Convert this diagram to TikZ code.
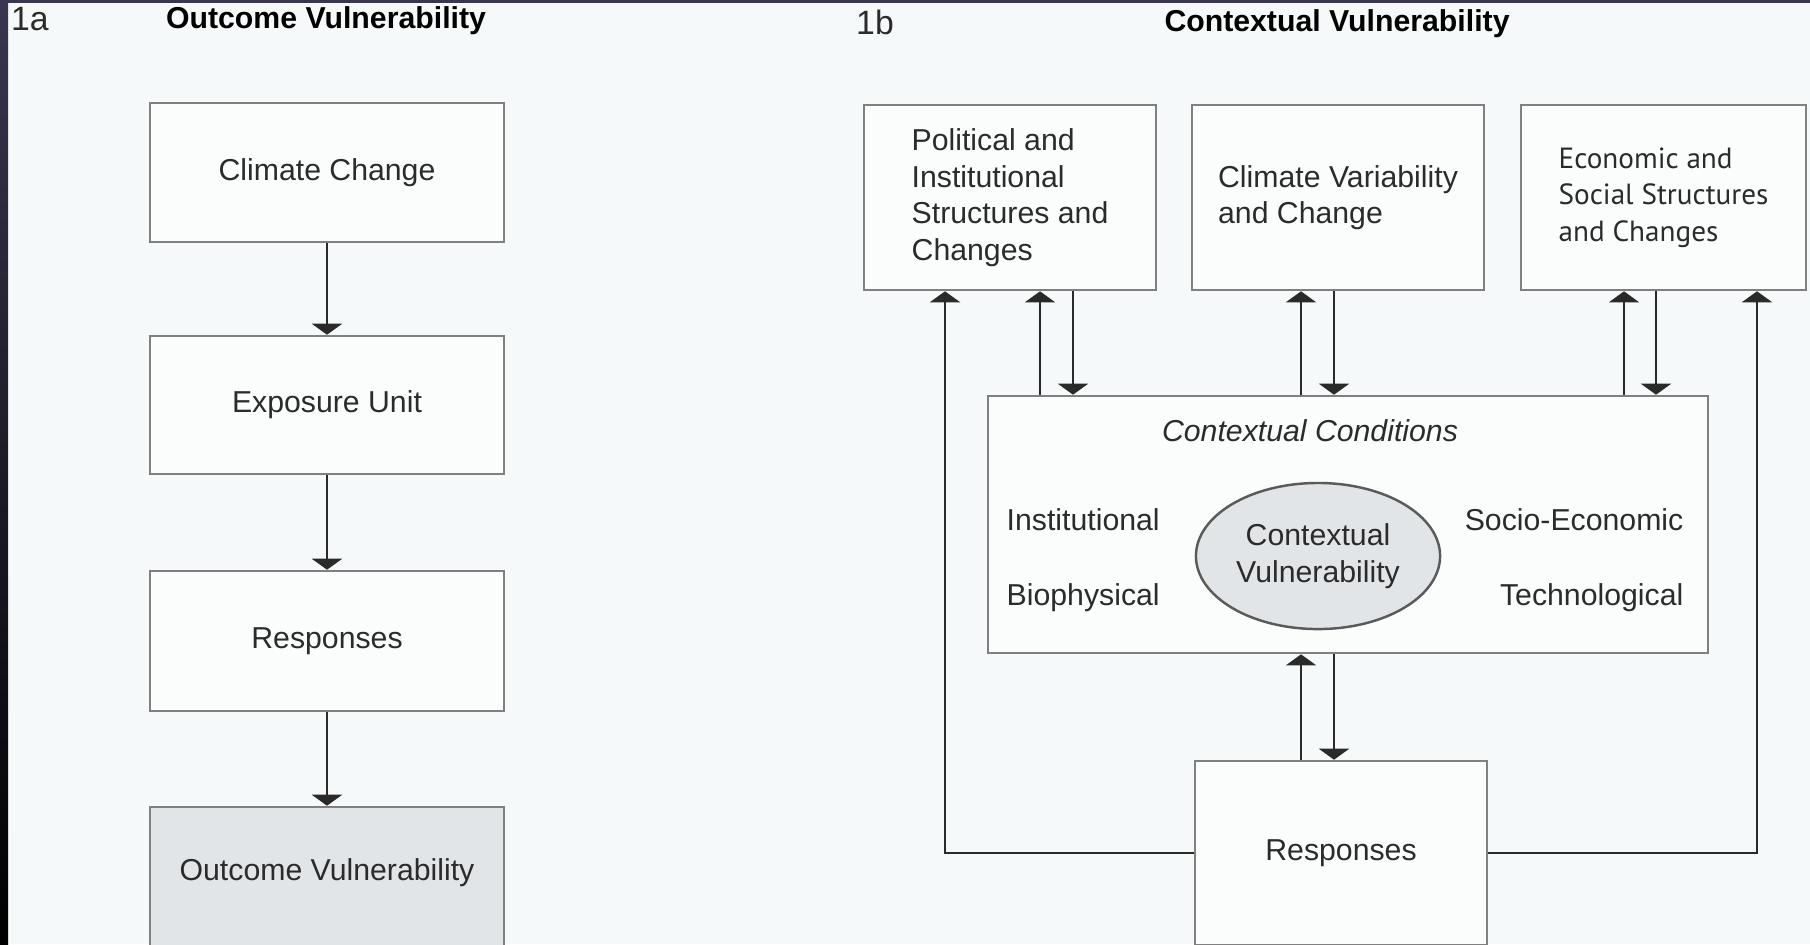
\documentclass[tikz,border=0pt]{standalone}
\usepackage{fontspec}
\setmainfont{Liberation Sans}
\newfontfamily\ptsans{PT Sans}
\usepackage{tikz}
\usetikzlibrary{arrows.meta}
\usetikzlibrary{shapes.geometric}

\definecolor{bgpale}{HTML}{F6F9F9}
\definecolor{boxfill}{HTML}{FBFDFD}
\definecolor{boxgray}{HTML}{808080}
\definecolor{linegray}{HTML}{2A2A2A}
\definecolor{shadegray}{HTML}{E2E5E8}
\definecolor{ellgray}{HTML}{5A5A5A}
\definecolor{textgray}{HTML}{2B2B2B}
\definecolor{bandtop}{HTML}{3A3550}
\definecolor{bandmid}{HTML}{26263A}

\begin{document}
\begin{tikzpicture}[x=0.01cm,y=-0.01cm,
  font=\fontsize{8.6}{10.4}\selectfont, text=textgray,
  box/.style={draw=boxgray,line width=0.7pt,fill=boxfill,inner sep=0pt,align=left},
  lbl/.style={inner sep=0pt,text height=6.2pt,text depth=1.8pt},
  arr/.style={draw=linegray,line width=0.6pt,-{Triangle[width=0.30cm,length=0.11cm]}},
  feedback/.style={line width=0.8pt}]
\useasboundingbox (0,0) rectangle (1810,944);
\clip (0,0) rectangle (1810,944);
\fill[bgpale] (0,0) rectangle (1810,944);
\shade[top color=bandtop,middle color=bandmid,bottom color=black] (0,0) rectangle (8,944);
\fill[bandtop] (0,0) rectangle (1810,3);

% 1a
\node[lbl,font=\fontsize{9.6}{11}\selectfont] (tag1a) at (30,23) {1a};
\node[lbl,font=\fontsize{8.6}{10.4}\selectfont\bfseries,text=black] (ttla) at (326,21) {Outcome Vulnerability};
\node[box,minimum width=3.54cm,minimum height=1.39cm] (clim) at (327,172.5) {Climate Change};
\node[box,minimum width=3.54cm,minimum height=1.38cm] (expo) at (327,405) {Exposure Unit};
\node[box,minimum width=3.54cm,minimum height=1.40cm] (resa) at (327,641) {Responses};
\node[box,fill=shadegray,minimum width=3.54cm,minimum height=1.60cm,text depth=0.34cm] (outv) at (327,887) {Outcome Vulnerability};
\draw[arr] (clim.south) -- (expo.north);
\draw[arr] (expo.south) -- (resa.north);
\draw[arr] (resa.south) -- (outv.north);

% 1b
\node[lbl,font=\fontsize{9.6}{11}\selectfont] (tag1b) at (875,27) {1b};
\node[lbl,font=\fontsize{8.6}{10.4}\selectfont\bfseries,text=black] (ttlb) at (1337,24) {Contextual Vulnerability};
\node[box,minimum width=2.92cm,minimum height=1.85cm] (pol) at (1010,197.5) {Political and\\Institutional\\Structures and\\Changes};
\node[box,minimum width=2.92cm,minimum height=1.85cm] (cvar) at (1338,197.5) {Climate Variability\\and Change};
\node[box,minimum width=2.85cm,minimum height=1.85cm,font=\fontsize{8.3}{10.4}\ptsans] (eco) at (1663.5,197.5) {Economic and\\Social Structures\\and Changes};
\node[box,minimum width=7.2cm,minimum height=2.57cm] (cond) at (1348,524.5) {};
\node[lbl,font=\fontsize{8.6}{10.4}\selectfont\itshape] (condt) at (1310,434) {Contextual Conditions};
\node[lbl,anchor=west] (inst) at (1006,523) {Institutional};
\node[lbl,anchor=west] (bio) at (1006,598) {Biophysical};
\node[lbl,anchor=east] (soc) at (1684,523) {Socio-Economic};
\node[lbl,anchor=east] (tech) at (1684,598) {Technological};
\node[ellipse,draw=ellgray,line width=0.7pt,fill=shadegray,minimum width=2.44cm,minimum height=1.46cm,inner sep=0pt,align=center] (cvul) at (1318,556) {Contextual\\Vulnerability};
\node[box,minimum width=2.92cm,minimum height=1.84cm] (resb) at (1341,853) {Responses};

\foreach \up/\dn/\b in {1040/1073/pol, 1301/1334/cvar, 1624/1656/eco} {
  \draw[arr] (\up,0 |- cond.north) -- (\up,0 |- \b.south);
  \draw[arr] (\dn,0 |- \b.south) -- (\dn,0 |- cond.north);
}
\draw[arr] (1301,0 |- resb.north) -- (1301,0 |- cond.south);
\draw[arr] (1334,0 |- cond.south) -- (1334,0 |- resb.north);
\draw[arr,feedback] (resb.west) -| (945,0 |- pol.south);
\draw[arr,feedback] (resb.east) -| (1757,0 |- eco.south);
\end{tikzpicture}
\end{document}
